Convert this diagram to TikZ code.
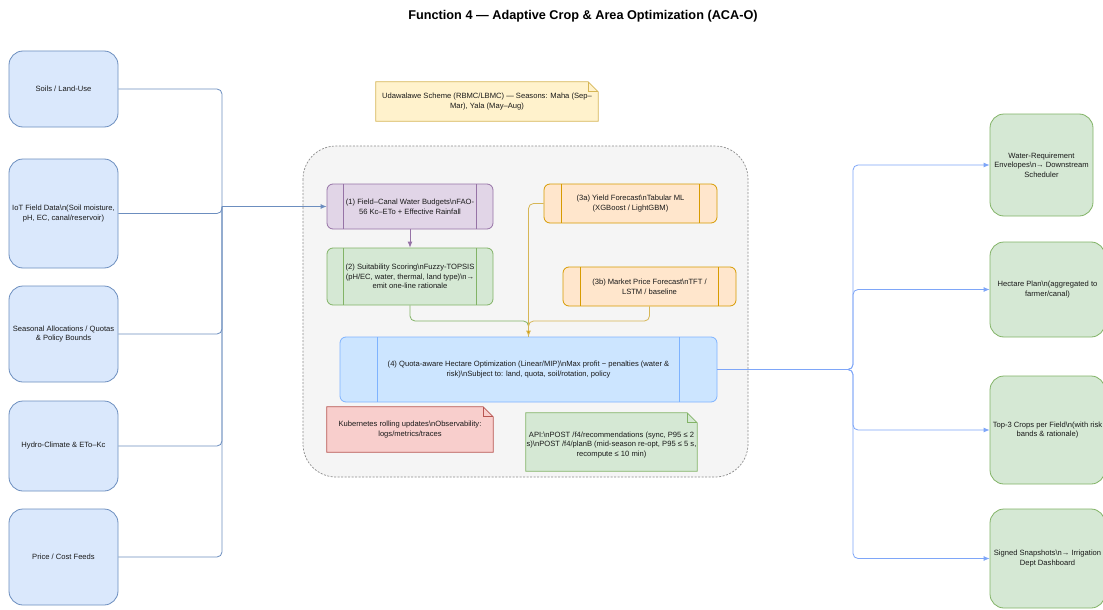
\documentclass[tikz,border=0pt]{standalone}
\usepackage{fontspec}
\setmainfont{Liberation Sans}
\usetikzlibrary{arrows.meta,calc}
\definecolor{bFill}{HTML}{DAE8FC}\definecolor{bLine}{HTML}{6C8EBF}
\definecolor{gFill}{HTML}{D5E8D4}\definecolor{gLine}{HTML}{82B366}
\definecolor{pFill}{HTML}{E1D5E7}\definecolor{pLine}{HTML}{9673A6}
\definecolor{oFill}{HTML}{FFE6CC}\definecolor{oLine}{HTML}{D79B00}
\definecolor{yFill}{HTML}{FFF2CC}\definecolor{yLine}{HTML}{D6B656}
\definecolor{rFill}{HTML}{F8CECC}\definecolor{rLine}{HTML}{B85450}
\definecolor{sFill}{HTML}{CCE5FF}\definecolor{sLine}{HTML}{7EB3FF}
\definecolor{outLine}{HTML}{7EA6F8}
\definecolor{contFill}{HTML}{F5F5F5}\definecolor{contLine}{HTML}{8C8C8C}
\definecolor{txt}{HTML}{1A1A1A}
\newcommand{\bsn}{\textbackslash n}
\begin{document}
\begin{tikzpicture}[x=1pt,y=-1pt,
  every node/.style={font=\fontsize{7.6}{9.6}\selectfont, text=txt, align=center, inner sep=1pt},
  srcbox/.style={draw=bLine, fill=bFill, line width=0.8pt, rounded corners=14pt, minimum width=109pt},
  outbox/.style={draw=gLine, fill=gFill, line width=0.8pt, rounded corners=14pt},
  procbox/.style={line width=0.8pt, rounded corners=6pt,
    path picture={\draw[#1,line width=0.8pt]
      ($(path picture bounding box.north west)!0.1!(path picture bounding box.north east)$) --
      ($(path picture bounding box.south west)!0.1!(path picture bounding box.south east)$)
      ($(path picture bounding box.north west)!0.9!(path picture bounding box.north east)$) --
      ($(path picture bounding box.south west)!0.9!(path picture bounding box.south east)$);}},
  notetext/.style={inner sep=0pt},
  conn/.style={line width=0.8pt, rounded corners=5pt},
  tip/.style={-{Latex[length=6pt,width=5pt]}}
]
\useasboundingbox (0,0) rectangle (1103,610);
\fill[white] (0,0) rectangle (1103,610);

% title
\node[font=\bfseries\fontsize{12.7}{15}\selectfont, text=black] (title) at (583,16) {Function 4 — Adaptive Crop \& Area Optimization (ACA-O)};

% container
\draw[contLine, fill=contFill, line width=0.7pt, dash pattern=on 2pt off 1.5pt, rounded corners=33pt] (303,146) rectangle (748,477);
\node[minimum width=445pt, minimum height=331pt, inner sep=0pt] (cont) at (525.5,311.5) {};

% source boxes
\node[srcbox, minimum height=76pt] (soil) at (63.5,89) {Soils / Land-Use};
\node[srcbox, minimum height=109pt] (iot) at (63.5,213.5) {IoT Field Data\bsn(Soil moisture,\\pH, EC, canal/reservoir)};
\node[srcbox, minimum height=96pt] (quota) at (63.5,334) {Seasonal Allocations / Quotas\\\& Policy Bounds};
\node[srcbox, minimum height=90pt] (hydro) at (63.5,446) {Hydro-Climate \& ETo–Kc};
\node[srcbox, minimum height=96pt] (price) at (63.5,557) {Price / Cost Feeds};

% scheme note
\node[notetext, minimum width=222pt, minimum height=39pt] (scheme) at (487,101.5) {Udawalawe Scheme (RBMC/LBMC) — Seasons: Maha (Sep–\\Mar), Yala (May–Aug)};
\draw[yLine, fill=yFill, line width=0.8pt] (scheme.north west) -- ($(scheme.north east)+(-10pt,0pt)$) -- ($(scheme.north east)+(0pt,-10pt)$) -- (scheme.south east) -- (scheme.south west) -- cycle;
\draw[yLine, line width=0.8pt] ($(scheme.north east)+(-10pt,0pt)$) -- ($(scheme.north east)+(-10pt,-10pt)$) -- ($(scheme.north east)+(0pt,-10pt)$);
\node[notetext] at (scheme) {Udawalawe Scheme (RBMC/LBMC) — Seasons: Maha (Sep–\\Mar), Yala (May–Aug)};

% process boxes
\node[procbox=pLine, draw=pLine, fill=pFill, minimum width=166pt, minimum height=45pt] (n1) at (410,206.5) {(1) Field–Canal Water Budgets\bsn FAO-\\56 Kc–ETo + Effective Rainfall};
\node[procbox=oLine, draw=oLine, fill=oFill, minimum width=173pt, minimum height=39pt] (n3a) at (630.5,203.5) {(3a) Yield Forecast\bsn Tabular ML\\(XGBoost / LightGBM)};
\node[procbox=gLine, draw=gLine, fill=gFill, minimum width=166pt, minimum height=57pt] (n2) at (410,276.5) {(2) Suitability Scoring\bsn Fuzzy-TOPSIS\\(pH/EC, water, thermal, land type)\bsn→\\emit one-line rationale};
\node[procbox=oLine, draw=oLine, fill=oFill, minimum width=173pt, minimum height=39pt] (n3b) at (649.5,286.5) {(3b) Market Price Forecast\bsn TFT /\\LSTM / baseline};
\node[procbox=sLine, draw=sLine, fill=sFill, minimum width=377pt, minimum height=65pt] (n4) at (528.5,369.5) {(4) Quota-aware Hectare Optimization (Linear/MIP)\bsn Max profit − penalties (water \&\\risk)\bsn Subject to: land, quota, soil/rotation, policy};

% kubernetes note
\node[notetext, minimum width=166pt, minimum height=45pt] (k8s) at (410,429.5) {};
\draw[rLine, fill=rFill, line width=0.8pt] (k8s.north west) -- ($(k8s.north east)+(-10pt,0pt)$) -- ($(k8s.north east)+(0pt,-10pt)$) -- (k8s.south east) -- (k8s.south west) -- cycle;
\draw[rLine, line width=0.8pt] ($(k8s.north east)+(-10pt,0pt)$) -- ($(k8s.north east)+(-10pt,-10pt)$) -- ($(k8s.north east)+(0pt,-10pt)$);
\node[notetext] at (k8s) {Kubernetes rolling updates\bsn Observability:\\logs/metrics/traces};

% api note
\node[notetext, minimum width=171pt, minimum height=58pt] (api) at (611.5,442) {};
\draw[gLine, fill=gFill, line width=0.8pt] (api.north west) -- ($(api.north east)+(-10pt,0pt)$) -- ($(api.north east)+(0pt,-10pt)$) -- (api.south east) -- (api.south west) -- cycle;
\draw[gLine, line width=0.8pt] ($(api.north east)+(-10pt,0pt)$) -- ($(api.north east)+(-10pt,-10pt)$) -- ($(api.north east)+(0pt,-10pt)$);
\node[notetext] at ($(api)+(0pt,-3pt)$) {API:\bsn POST /f4/recommendations (sync, P95 ≤ 2\\s)\bsn POST /f4/planB (mid-season re-opt, P95 ≤ 5 s,\\recompute ≤ 10 min)};

% output boxes
\node[outbox, minimum width=103pt, minimum height=102pt] (wre) at (1041.5,165) {Water-Requirement\\Envelopes\bsn→ Downstream\\Scheduler};
\node[outbox, minimum width=115pt, minimum height=95pt] (hp) at (1047.5,289.5) {Hectare Plan\bsn(aggregated to\\farmer/canal)};
\node[outbox, minimum width=115pt, minimum height=108pt] (top3) at (1047.5,430) {Top-3 Crops per Field\bsn(with risk\\bands \& rationale)};
\node[outbox, minimum width=115pt, minimum height=99pt] (snap) at (1047.5,558.5) {Signed Snapshots\bsn→ Irrigation\\Dept Dashboard};

% input connectors
\coordinate (busL) at (222,206.5);
\foreach \s in {soil,iot,quota,hydro,price}{
  \draw[conn, bLine] (\s.east) -| (busL);
}
\draw[conn, bLine, tip] (busL) -- (n1.west);

% internal connectors
\draw[conn, pLine, tip] (n1.south) -- (n2.north);
\coordinate (mJ) at (528.5,321);
\draw[conn, gLine] (n2.south) |- (mJ) -- (n4.north);
\draw[conn, yLine] (n3b.south) |- (mJ) -- (n4.north);
\draw[conn, yLine, tip, -{Latex[length=6pt,width=5pt,fill=oLine]}] (n3a.west) -| (n4.north);

% output connectors
\coordinate (busR) at (853,369.5);
\foreach \t in {wre,hp,top3,snap}{
  \draw[conn, outLine, tip] (n4.east) -- (busR) |- (\t.west);
}
\end{tikzpicture}
\end{document}
